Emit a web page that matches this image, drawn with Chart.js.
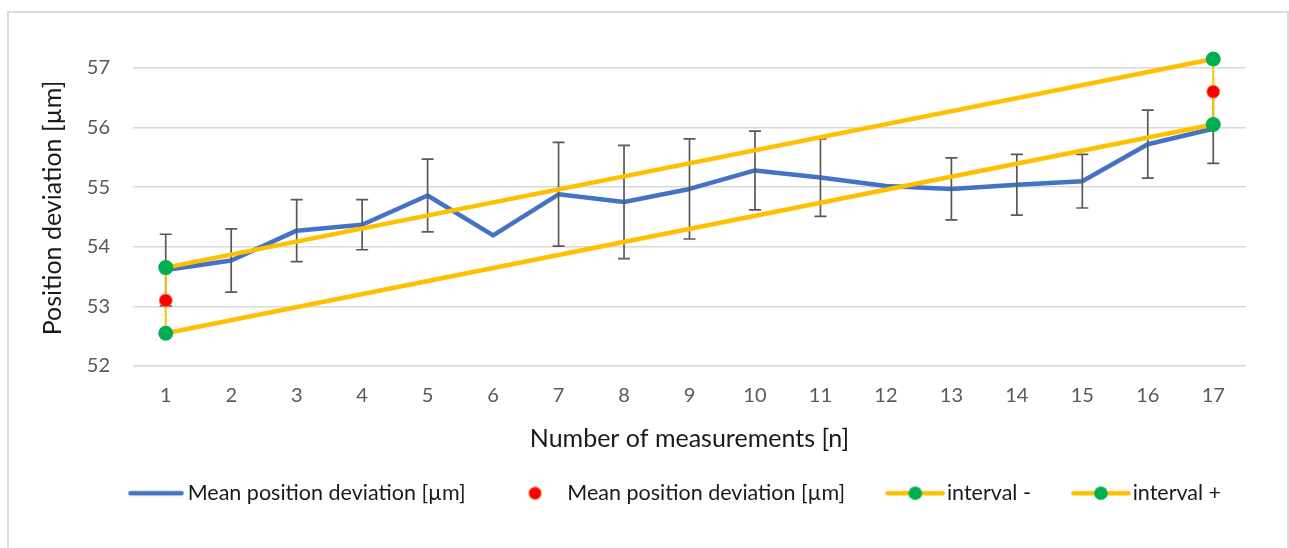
<!DOCTYPE html>
<html>
<head>
<meta charset="utf-8">
<script src="https://cdn.jsdelivr.net/npm/chart.js@4.4.1/dist/chart.umd.min.js"></script>
<style>
  html, body { margin: 0; padding: 0; background: #ffffff; overflow: hidden; }
  #wrap { position: relative; width: 1289px; height: 548px; }
  #frame { position: absolute; left: 7px; top: 11px; width: 1282px; height: 600px;
           border: 2px solid #DCDCDC; box-sizing: border-box; }
  #c { position: absolute; left: 0; top: 0; }
</style>
</head>
<body>
<div id="wrap">
  <div id="frame"></div>
  <canvas id="c" width="1289" height="548"></canvas>
</div>
<script>
// ---- data ----
const categories = ['1','2','3','4','5','6','7','8','9','10','11','12','13','14','15','16','17'];
const meanDeviation = [53.61, 53.77, 54.27, 54.37, 54.86, 54.19, 54.88, 54.75, 54.97, 55.28, 55.16, 55.02, 54.97, 55.04, 55.10, 55.72, 55.98];
const meanDeviationError = [0.60, 0.53, 0.52, 0.42, 0.61, null, 0.87, 0.95, 0.84, 0.66, 0.65, null, 0.52, 0.51, 0.45, 0.57, 0.58];
const meanPoint = [53.10, null, null, null, null, null, null, null, null, null, null, null, null, null, null, null, 56.60];
const meanPointError = [0.55, null, null, null, null, null, null, null, null, null, null, null, null, null, null, null, 0.55];
const intervalMinus = [52.55, null, null, null, null, null, null, null, null, null, null, null, null, null, null, null, 56.05];
const intervalPlus = [53.65, null, null, null, null, null, null, null, null, null, null, null, null, null, null, null, 57.15];
const yMin = 52, yMax = 57.3, yStep = 1;
const seriesNames = ['Mean position deviation [µm]', 'Mean position deviation [µm]', 'interval -', 'interval +'];

// ---- styles ----
const BLUE = '#4472C4', YELLOW = '#FFC000', GREEN = '#00B050', RED = '#FF0000';
const FONT = "Lato, 'Open Sans', sans-serif";
const LEGEND_FS = 21.5, LEGEND_PAD = 49;

function makeSwatch(w, h, draw) {
  const cv = document.createElement('canvas');
  cv.width = w; cv.height = h;
  draw(cv.getContext('2d'), w, h);
  return cv;
}
const swBlue = makeSwatch(56, 10, (g, w, h) => {
  g.strokeStyle = BLUE; g.lineWidth = 4.5; g.lineCap = 'round';
  g.beginPath(); g.moveTo(2.5, h / 2); g.lineTo(w - 2.5, h / 2); g.stroke();
});
const swRed = makeSwatch(56, 16, (g, w, h) => {
  g.fillStyle = RED; g.strokeStyle = '#F08A4B'; g.lineWidth = 1;
  g.beginPath(); g.arc(27.5, h / 2, 6.3, 0, Math.PI * 2); g.fill(); g.stroke();
});
const swInterval = () => makeSwatch(60, 16, (g, w, h) => {
  g.strokeStyle = YELLOW; g.lineWidth = 4.5; g.lineCap = 'round';
  g.beginPath(); g.moveTo(2.5, h / 2); g.lineTo(w - 2.5, h / 2); g.stroke();
  g.fillStyle = GREEN; g.beginPath(); g.arc(w / 2, h / 2, 6.8, 0, Math.PI * 2); g.fill();
});
const swMinus = swInterval(), swPlus = swInterval();

function drawBars(chart, values, errors, color, width, cap) {
  const x = chart.scales.x, y = chart.scales.y, ctx = chart.ctx;
  ctx.save();
  ctx.strokeStyle = color; ctx.lineWidth = width; ctx.lineCap = 'butt';
  values.forEach((v, i) => {
    const e = errors[i];
    if (v == null || e == null) return;
    const px = x.getPixelForValue(i);
    const top = y.getPixelForValue(v + e), bot = y.getPixelForValue(v - e);
    ctx.beginPath();
    ctx.moveTo(px, top); ctx.lineTo(px, bot);
    if (cap > 0) {
      ctx.moveTo(px - cap / 2, top); ctx.lineTo(px + cap / 2, top);
      ctx.moveTo(px - cap / 2, bot); ctx.lineTo(px + cap / 2, bot);
    }
    ctx.stroke();
  });
  ctx.restore();
}

const errorBarPlugin = {
  id: 'errorBars',
  afterDatasetDraw(chart, args) {
    if (args.index === 0) drawBars(chart, meanDeviation, meanDeviationError, '#595959', 1.7, 12);
  },
  beforeDatasetDraw(chart, args) {
    if (args.index === 2) drawBars(chart, meanPoint, meanPointError, YELLOW, 2, 0);
  }
};

const legendShiftPlugin = {
  id: 'legendShift',
  afterLayout(chart) {
    const lg = chart.legend;
    if (!lg) return;
    const shift = 678 - (lg.left + lg.right) / 2;
    lg.left += shift; lg.right += shift;
  }
};

new Chart(document.getElementById('c'), {
  type: 'line',
  data: {
    labels: categories,
    datasets: [
      { label: seriesNames[0], data: meanDeviation, borderColor: BLUE, backgroundColor: BLUE,
        borderWidth: 4.5, pointRadius: 0, tension: 0, borderJoinStyle: 'round', borderCapStyle: 'round', order: 4, clip: false },
      { label: seriesNames[1], data: meanPoint, showLine: false, pointRadius: 6.5, pointBackgroundColor: RED,
        pointBorderColor: '#F08A4B', pointBorderWidth: 1, order: 1, clip: false },
      { label: seriesNames[2], data: intervalMinus, spanGaps: true, borderColor: YELLOW, borderWidth: 4.5,
        pointRadius: 7.5, pointBackgroundColor: GREEN, pointBorderWidth: 0, order: 3, clip: false },
      { label: seriesNames[3], data: intervalPlus, spanGaps: true, borderColor: YELLOW, borderWidth: 4.5,
        pointRadius: 7.5, pointBackgroundColor: GREEN, pointBorderWidth: 0, order: 2, clip: false }
    ]
  },
  options: {
    responsive: false,
    animation: false,
    devicePixelRatio: 1,
    layout: { padding: { left: 7, right: 43, top: 50, bottom: 34 } },
    scales: {
      x: {
        type: 'category',
        offset: true,
        grid: { display: false, drawTicks: false },
        border: { display: false },
        ticks: { color: '#595959', font: { family: FONT, size: 20 }, padding: 18, maxRotation: 0, autoSkip: false },
        title: { display: true, text: 'Number of measurements [n]', color: '#1a1a1a',
                 font: { family: FONT, size: 25 }, padding: { top: 0, bottom: -20.5 } },
        afterFit(s) { s.height = 67.5; }
      },
      y: {
        min: yMin, max: yMax,
        grid: { color: '#D9D9D9', lineWidth: 1.5, drawTicks: false },
        border: { display: false },
        ticks: { stepSize: yStep, includeBounds: false, color: '#595959', font: { family: FONT, size: 20 }, padding: 23 },
        title: { display: true, text: 'Position deviation [µm]', color: '#1a1a1a',
                 font: { family: FONT, size: 25 }, padding: { top: 31, bottom: 0 } },
        afterFit(s) { s.width = 126; }
      }
    },
    plugins: {
      tooltip: { enabled: false },
      legend: {
        position: 'bottom',
        labels: {
          usePointStyle: true,
          pointStyleWidth: 42,
          padding: LEGEND_PAD,
          color: '#1a1a1a',
          font: { family: FONT, size: LEGEND_FS },
          generateLabels: () => {
            const sw = [swBlue, swRed, swMinus, swPlus];
            return seriesNames.map((t, i) => ({
              text: t, pointStyle: sw[i], fontColor: '#1a1a1a', hidden: false, datasetIndex: i,
              lineWidth: 0, strokeStyle: 'rgba(0,0,0,0)', fillStyle: 'rgba(0,0,0,0)'
            }));
          }
        },
        onClick: () => {}
      }
    }
  },
  plugins: [errorBarPlugin, legendShiftPlugin]
});
</script>
</body>
</html>
